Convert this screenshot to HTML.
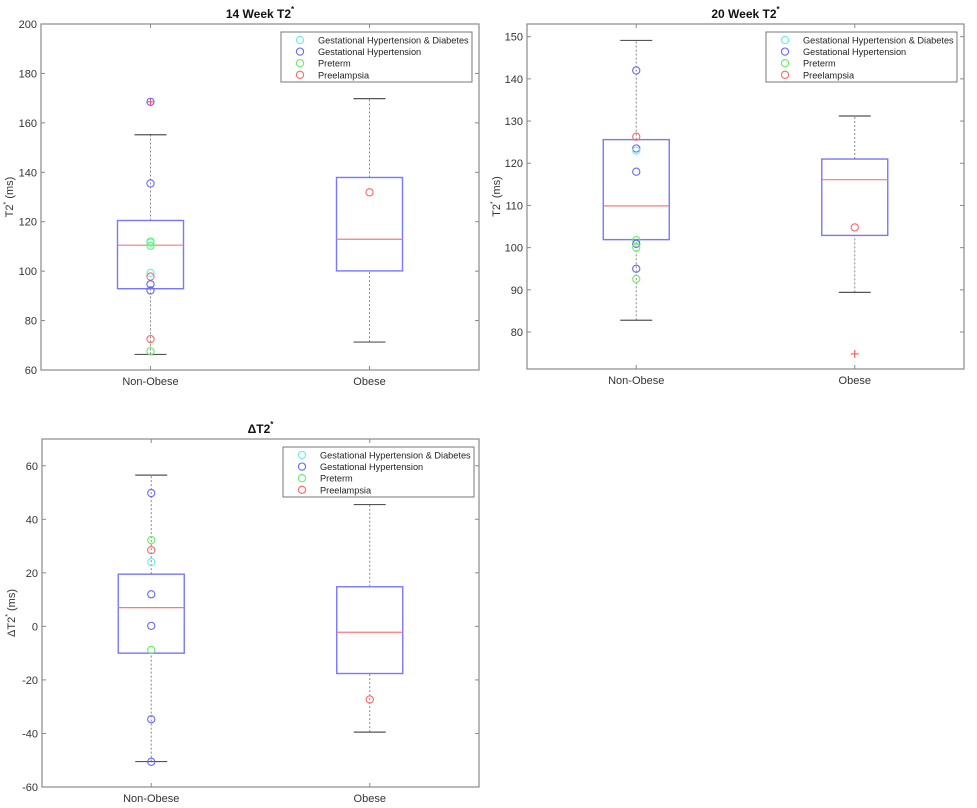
<!DOCTYPE html>
<html><head><meta charset="utf-8"><style>
html,body{margin:0;padding:0;background:#fff;}
svg{display:block;font-family:"Liberation Sans",Arial,sans-serif;}
</style></head><body>
<svg id="fig" width="977" height="808" viewBox="0 0 977 808" xmlns="http://www.w3.org/2000/svg"></svg>
<script>
// ---- data ----
const categories = ["Non-Obese", "Obese"];
const legendLabels = ["Gestational Hypertension & Diabetes", "Gestational Hypertension", "Preterm", "Preelampsia"];
const legendColors = ["#66eeee", "#6666ff", "#66ee66", "#ff6666"];

// box stats per category: [lowerWhisker, q1, median, q3, upperWhisker]
const w14Stats = [[66.3, 92.9, 110.5, 120.5, 155.2], [71.3, 100.1, 112.9, 137.9, 169.8]];
const w14Outliers = [[168.5], []];
// points per category: [value, groupIndex]
const w14PointsNonObese = [[168.5,1],[135.5,1],[112,2],[111.5,0],[110.3,2],[99.3,0],[97.8,3],[94.7,1],[92.2,1],[72.5,3],[67.6,2]];
const w14PointsObese = [[131.9,3]];
const w14Ticks = [60,80,100,120,140,160,180,200];

const w20Stats = [[82.8, 101.9, 109.9, 125.6, 149.1], [89.4, 102.9, 116.1, 121.0, 131.2]];
const w20Outliers = [[], [74.8]];
const w20PointsNonObese = [[142,1],[126.3,3],[123.5,1],[123,0],[118,1],[101.8,2],[100.9,1],[100,2],[95,1],[92.6,2]];
const w20PointsObese = [[104.8,3]];
const w20Ticks = [80,90,100,110,120,130,140,150];

const dStats = [[-50.5, -10, 7, 19.5, 56.5], [-39.5, -17.6, -2.2, 14.8, 45.5]];
const dOutliers = [[], []];
const dPointsNonObese = [[49.8,1],[32.2,2],[28.5,3],[24,0],[12,1],[0.2,1],[-8.8,2],[-34.7,1],[-50.6,1]];
const dPointsObese = [[-27.3,3]];
const dTicks = [-60,-40,-20,0,20,40,60];

const NS = "http://www.w3.org/2000/svg";
const svg = document.getElementById("fig");
function mk(tag, attrs, parent, text) {
  const e = document.createElementNS(NS, tag);
  for (const k in attrs) e.setAttribute(k, attrs[k]);
  if (text !== undefined) e.textContent = text;
  (parent || svg).appendChild(e);
  return e;
}

function drawPanel(cfg) {
  const g = mk("g", {});
  
  
  const L = cfg.left, R = cfg.right, T = cfg.top, B = cfg.bottom;
  const y = v => B - (v - cfg.ymin) / (cfg.ymax - cfg.ymin) * (B - T);
  const xs = [L + (R - L) * 0.25, L + (R - L) * 0.75];
  const box = mk("rect", {x:L, y:T, width:R-L, height:B-T, fill:"none", stroke:"#8a8a8a", "stroke-width":1.2}, g);
  
  
  cfg.ticks.forEach(t => {
    const yy = y(t);
    mk("line", {x1:L, x2:L+4, y1:yy, y2:yy, stroke:"#8a8a8a"}, g);
    mk("line", {x1:R-4, x2:R, y1:yy, y2:yy, stroke:"#8a8a8a"}, g);
    if (cfg.showTickLabels) {
      const tl = mk("text", {x:L-4, y:yy+4, "text-anchor":"end", "font-size":11, fill:"#333"}, g, String(t));
      
      
    }
  });
  categories.forEach((c, i) => {
    mk("line", {x1:xs[i], x2:xs[i], y1:B, y2:B-4, stroke:"#8a8a8a"}, g);
    mk("line", {x1:xs[i], x2:xs[i], y1:T, y2:T+4, stroke:"#8a8a8a"}, g);
    const xl = mk("text", {x:xs[i], y:B+15, "text-anchor":"middle", "font-size":11, fill:"#333"}, g, c);
    
    
  });
  cfg.stats.forEach((s, i) => {
    const cx = xs[i];
    const wh1 = mk("line", {x1:cx, x2:cx, y1:y(s[0]), y2:y(s[1]), stroke:"#888", "stroke-dasharray":"2,2"}, g);
    
    
    const wh2 = mk("line", {x1:cx, x2:cx, y1:y(s[3]), y2:y(s[4]), stroke:"#888", "stroke-dasharray":"2,2"}, g);
    
    
    [s[0], s[4]].forEach(v => {
      const cap = mk("line", {x1:cx-16, x2:cx+16, y1:y(v), y2:y(v), stroke:"#555", "stroke-width":1.2}, g);
      
      
    });
    const bx = mk("rect", {x:cx-33, y:y(s[3]), width:66, height:y(s[1])-y(s[3]), fill:"none", stroke:"#7777ff", "stroke-width":1.4}, g);
    
    
    const md = mk("line", {x1:cx-33, x2:cx+33, y1:y(s[2]), y2:y(s[2]), stroke:"#ff7777", "stroke-width":1.2}, g);
    
    
    cfg.outliers[i].forEach(v => {
      const o = mk("path", {d:`M${cx-4},${y(v)}H${cx+4}M${cx},${y(v)-4}V${y(v)+4}`, stroke:"#ff5555", "stroke-width":1.1}, g);
      
      
    });
  });
  [cfg.pointsA, cfg.pointsB].forEach((pts, i) => {
    pts.forEach(p => {
      const c = mk("circle", {cx:xs[i], cy:y(p[0]), r:3.6, fill:"none", stroke:legendColors[p[1]], "stroke-width":1.1}, g);
      
      
    });
  });
  const tt = mk("text", {x:(L+R)/2, y:T-6, "text-anchor":"middle", "font-size":12, "font-weight":"bold", fill:"#111"}, g);
  
  
  tt.textContent = cfg.title;
  mk("tspan", {dy:-6, "font-size":8}, tt, "*");
  if (cfg.ylabel) {
    const yl = mk("text", {transform:`translate(${cfg.ylabelX},${(T+B)/2}) rotate(-90)`, "text-anchor":"middle", "font-size":11, fill:"#333"}, g);
    
    
    yl.textContent = cfg.ylabel;
    mk("tspan", {dy:-5, "font-size":7}, yl, "*");
    mk("tspan", {dy:5}, yl, " (ms)");
  }
  const lg = mk("g", {}, g);
  
  
  mk("rect", {x:cfg.legX, y:cfg.legY, width:191, height:50, fill:"#fff", stroke:"#777", "stroke-width":1}, lg);
  legendLabels.forEach((lab, k) => {
    const ry = cfg.legY + 8 + k * 11.6;
    const e = mk("g", {}, lg);
    
    
    mk("circle", {cx:cfg.legX+19, cy:ry, r:3.6, fill:"none", stroke:legendColors[k], "stroke-width":1.1}, e);
    mk("text", {x:cfg.legX+37, y:ry+3.5, "font-size":9.2, fill:"#222"}, e, lab);
  });
}

drawPanel({name:"chart-14-week", left:41, right:479, top:24, bottom:370, ymin:60, ymax:200, ticks:w14Ticks, showTickLabels:true,
  stats:w14Stats, outliers:w14Outliers, pointsA:w14PointsNonObese, pointsB:w14PointsObese, title:"14 Week T2", ylabel:"T2", ylabelX:13, legX:281, legY:32});
drawPanel({name:"chart-20-week", left:527, right:964, top:24, bottom:369, ymin:71.24, ymax:153, ticks:w20Ticks, showTickLabels:true,
  stats:w20Stats, outliers:w20Outliers, pointsA:w20PointsNonObese, pointsB:w20PointsObese, title:"20 Week T2", ylabel:"T2", ylabelX:500, legX:766, legY:32});
drawPanel({name:"chart-delta", left:42, right:479, top:439, bottom:787, ymin:-60, ymax:70, ticks:dTicks, showTickLabels:true,
  stats:dStats, outliers:dOutliers, pointsA:dPointsNonObese, pointsB:dPointsObese, title:"ΔT2", ylabel:"ΔT2", ylabelX:15, legX:283, legY:447});
</script>
</body></html>
